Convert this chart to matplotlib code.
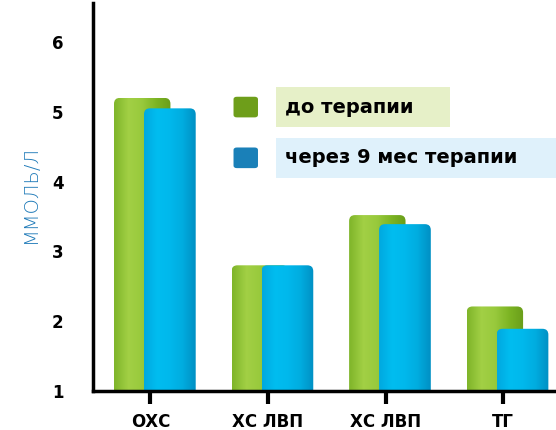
import numpy as np
import matplotlib.pyplot as plt
from matplotlib.patches import FancyBboxPatch
from matplotlib.colors import LinearSegmentedColormap

categories = ['ОХС', 'ХС ЛВП', 'ХС ЛВП', 'ТГ']
before = [5.2, 2.8, 3.52, 2.21]      # до терапии
after = [5.05, 2.8, 3.39, 1.89]      # через 9 мес терапии
yticks = [1, 2, 3, 4, 5, 6]

fig = plt.figure(figsize=(5.56, 4.30), dpi=100)
ax = fig.add_axes([0.167, 0.091, 0.833, 0.902])

x = np.arange(len(categories))

green_cm = LinearSegmentedColormap.from_list('g', ['#7fb52a', '#a2d045', '#98c93c', '#7cb423', '#6a9e1a'])
blue_cm = LinearSegmentedColormap.from_list('b', ['#00a9e0', '#00bdf0', '#00b8ec', '#00acdf', '#0090c4'])


def fancy_bars(rects, cmap, z):
    # replace plain rectangles with rounded, shaded ones
    for r in rects:
        r.set_visible(False)
        bx, by, bw, bh = r.get_x(), r.get_y(), r.get_width(), r.get_height()
        p = FancyBboxPatch((bx, by - 0.2), bw, bh + 0.2,
                           boxstyle='round,pad=0,rounding_size=0.05',
                           mutation_aspect=1.7, fc='none', ec='none', zorder=z)
        ax.add_patch(p)
        grad = np.linspace(0, 1, 64).reshape(1, -1)
        im = ax.imshow(grad, cmap=cmap, aspect='auto', extent=(bx, bx + bw, by - 0.2, by + bh),
                       zorder=z, interpolation='bicubic')
        im.set_clip_path(p)


g = ax.bar(x - 0.07, np.array(before) - 1, bottom=1, width=0.48)
b = ax.bar(x + 0.165, np.array(after) - 1, bottom=1, width=0.44)
fancy_bars(g, green_cm, 2)
fancy_bars(b, blue_cm, 3)

ax.set_xlim(-0.49, 3.45)
ax.set_ylim(1, 6.56)

for s in ['top', 'right']:
    ax.spines[s].set_visible(False)
ax.spines['left'].set_linewidth(2.5)
ax.spines['bottom'].set_linewidth(2.5)
ax.spines['left'].set_zorder(5)
ax.spines['bottom'].set_zorder(5)

ax.set_yticks(yticks)
ax.set_yticklabels([str(t) for t in yticks], fontsize=12, fontweight='bold')
ax.tick_params(axis='y', length=0, pad=21)
ax.set_xticks(x)
ax.set_xticklabels(categories, fontsize=12, fontweight='bold')
ax.tick_params(axis='x', length=9, width=3, pad=7)

fig.text(0.055, 0.55, 'ММОЛЬ/Л', rotation=90, color='#1f7ab8', fontsize=14,
         fontweight='light', ha='center', va='center')

# legend
ax_leg = [('до терапии', '#6e9e1a', '#e6f0c8', 0.751, 0.81),
          ('через 9 мес терапии', '#1a80b8', '#dff1fb', 0.633, 1.0)]
for lab, sq, bg, yy, xr in ax_leg:
    fig.patches.append(FancyBboxPatch((0.42, yy - 0.024), 0.044, 0.048,
                                      boxstyle='round,pad=0,rounding_size=0.006',
                                      transform=fig.transFigure, fc=sq, ec='none'))
    fig.patches.append(plt.Rectangle((0.497, yy - 0.046), xr - 0.497, 0.092,
                                     transform=fig.transFigure, fc=bg, ec='none'))
    fig.text(0.512, yy, lab, fontsize=14, fontweight='bold', va='center', ha='left')

fig.savefig('out.png', dpi=100)
